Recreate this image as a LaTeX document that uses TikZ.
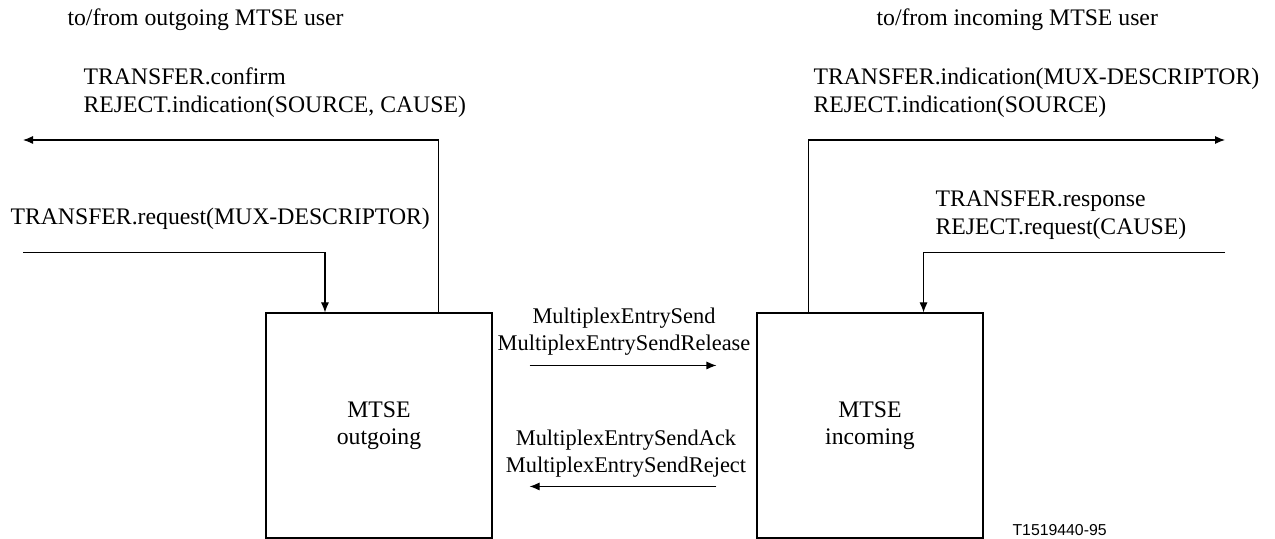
\documentclass[tikz,border=0pt]{standalone}
\usepackage{fontspec}
\setmainfont{Liberation Serif}
\newfontfamily\codefont{Liberation Sans}
\usetikzlibrary{arrows.meta, calc}

\begin{document}
\begin{tikzpicture}[
    line width=0.6pt,
    every node/.style={inner sep=0pt},
    mtse/.style={draw, minimum width=4.52cm, minimum height=4.5cm, align=center, font=\fontsize{13.5}{15.4}\selectfont},
    primtext/.style={align=left, font=\fontsize{13.5}{15.9}\selectfont},
    msg/.style={align=center, font=\fontsize{12.75}{15.4}\selectfont},
    flow/.style={-{Latex[length=2mm, width=1.6mm]}}
]
    \useasboundingbox (0,0) rectangle (25.5,10.78);

    % Draw the two entities
    \node[mtse] (out) at (7.58,2.27) {MTSE\\outgoing};
    \node[mtse] (inc) at (17.40,2.27) {MTSE\\incoming};

    % User side end points
    \coordinate (outUp) at (0.46,7.98);
    \coordinate (outDn) at (0.46,5.73);
    \coordinate (incUp) at (24.5,7.98);
    \coordinate (incDn) at (24.5,5.73);

    % Primitives to/from the users
    \draw[flow] ([xshift=-1.08cm]out.north east) |- (outUp);
    \draw[flow] (outDn) -| ([xshift=1.19cm]out.north west);
    \draw[flow] ([xshift=1.04cm]inc.north west) |- (incUp);
    \draw[flow] (incDn) -| ([xshift=-1.2cm]inc.north east);

    % Messages between the entities
    \coordinate (sendA) at ($(out.north east)+(0.74,-1.06)$);
    \coordinate (sendB) at ($(inc.north west)+(-0.8,-1.06)$);
    \coordinate (ackA) at ($(inc.north west)+(-0.8,-3.48)$);
    \coordinate (ackB) at ($(out.north east)+(0.74,-3.48)$);
    \draw[flow] (sendA) -- (sendB);
    \draw[flow] (ackA) -- (ackB);

    % Labels
    \node[primtext, anchor=base west] (outUser) at (1.34,10.26) {to/from outgoing MTSE user};
    \node[primtext, anchor=base west] (inUser) at (17.52,10.26) {to/from incoming MTSE user};
    \node[primtext, anchor=west] (cfm) at (1.66,8.93) {TRANSFER.confirm\\REJECT.indication(SOURCE, CAUSE)};
    \node[primtext, anchor=base west] (req) at (0.2,6.28) {TRANSFER.request(MUX-DESCRIPTOR)};
    \node[primtext, anchor=west] (ind) at (16.26,8.93) {TRANSFER.indication(MUX-DESCRIPTOR)\\REJECT.indication(SOURCE)};
    \node[primtext, anchor=west] (rsp) at (18.7,6.48) {TRANSFER.response\\REJECT.request(CAUSE)};
    \node[msg] (send) at (12.48,4.14) {MultiplexEntrySend\\MultiplexEntrySendRelease};
    \node[msg] (ack) at (12.52,1.70) {MultiplexEntrySendAck\\MultiplexEntrySendReject};
    \node[anchor=base west, font=\codefont\fontsize{9}{10}\selectfont] (code) at (20.24,0.06) {T1519440-95};
\end{tikzpicture}
\end{document}
